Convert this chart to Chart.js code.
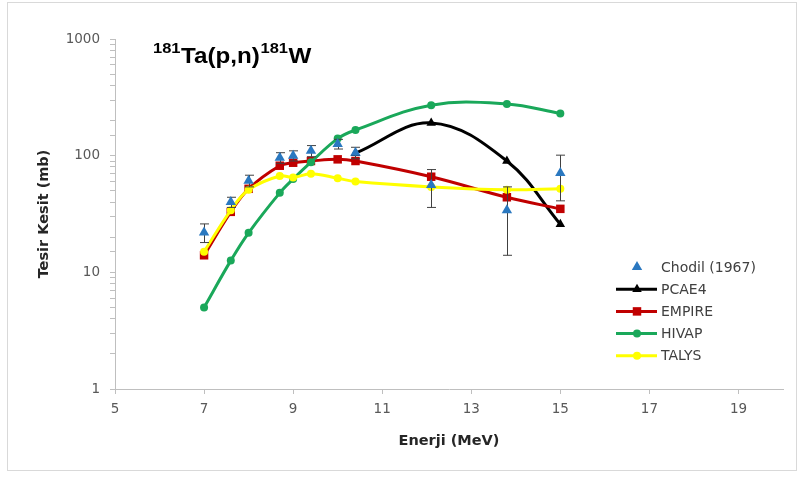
<!DOCTYPE html>
<html>
<head>
<meta charset="utf-8">
<script src="https://cdn.jsdelivr.net/npm/chart.js@4.4.1/dist/chart.umd.min.js"></script>
<style>
  html, body { margin: 0; padding: 0; background: #fff; }
  #box { width: 806px; height: 477px; }
</style>
</head>
<body>
<div id="box"><canvas id="chart" width="806" height="477"></canvas></div>
<script>
// Enerji (MeV) ve tesir kesitleri (mb)
var energy    = [7, 7.6, 8, 8.7, 9, 9.4, 10, 10.4, 12.1, 13.8, 15];
var chodil    = [22, 40, 61, 96, 100, 110, 126, 106, 56, 34, 71];
var chodilErr = [4, 4, 7, 10, 10, 12, 12, 12, 20, 20, 30];
var pcae4     = [null, null, null, null, null, null, null, 105, 191, 90, 25.8];
var empire    = [14, 33, 52, 82, 87, 90, 93, 90, 66, 44, 35];
var hivap     = [5.0, 12.6, 21.8, 48, 63, 88, 140, 166, 271, 277, 230];
var talys     = [15, 34, 51, 67, 65, 70, 64, 60, 54, 51, 52];
var xTicks    = [5, 7, 9, 11, 13, 15, 17, 19];
var yLabels   = [1, 10, 100, 1000];

var FONT = '"DejaVu Sans", sans-serif';
var TITLE_FONT = '"Liberation Sans", Arial, sans-serif';

function pts(arr) {
    return energy.map(function (e, i) { return { x: e, y: arr[i] }; });
}

function lineSet(label, arr, color, style, radius, order) {
    return {
        label: label, data: pts(arr), order: order,
        borderColor: color, backgroundColor: color, borderWidth: 3,
        pointStyle: style, pointRadius: radius, pointBorderWidth: 0,
        pointBackgroundColor: color, tension: 0.38, spanGaps: false
    };
}

var decor = {
    id: 'decor',
    beforeDraw: function (chart) {
        var ctx = chart.ctx;
        ctx.save();
        ctx.strokeStyle = '#d9d9d9';
        ctx.lineWidth = 1;
        ctx.strokeRect(7.5, 2.5, 789, 468);
        ctx.restore();
    },
    beforeDatasetDraw: function (chart, args) {
        if (args.index !== 0) return;
        var ctx = chart.ctx, xs = chart.scales.x, ys = chart.scales.y;
        ctx.save();
        ctx.strokeStyle = '#404040';
        ctx.lineWidth = 1;
        energy.forEach(function (e, i) {
            var px = Math.round(xs.getPixelForValue(e)) + 0.5;
            var top = ys.getPixelForValue(chodil[i] + chodilErr[i]);
            var bot = ys.getPixelForValue(chodil[i] - chodilErr[i]);
            ctx.beginPath();
            ctx.moveTo(px, top); ctx.lineTo(px, bot);
            ctx.moveTo(px - 4.5, top); ctx.lineTo(px + 4.5, top);
            ctx.moveTo(px - 4.5, bot); ctx.lineTo(px + 4.5, bot);
            ctx.stroke();
        });
        ctx.restore();
    },
    afterDraw: function (chart) {
        var ctx = chart.ctx;
        ctx.save();
        // baslik (biraz yatay genis)
        ctx.fillStyle = '#000';
        ctx.textBaseline = 'alphabetic';
        ctx.save();
        ctx.translate(153, 0);
        ctx.scale(1.1, 1);
        var x = 0;
        var parts = [['181', 15, 53], ['Ta(p,n)', 22, 63], ['181', 15, 53], ['W', 22, 63]];
        parts.forEach(function (p) {
            ctx.font = 'bold ' + p[1] + 'px ' + TITLE_FONT;
            ctx.fillText(p[0], x, p[2]);
            x += ctx.measureText(p[0]).width + 0.5;
        });
        ctx.restore();
        // lejant
        var y0 = 267, gap = 22.2;
        chart.data.datasets.forEach(function (ds, i) {
            var y = y0 + i * gap;
            ctx.fillStyle = ds.borderColor;
            ctx.strokeStyle = ds.borderColor;
            if (ds.showLine !== false) {
                ctx.lineWidth = 3;
                ctx.beginPath();
                ctx.moveTo(616, y); ctx.lineTo(657, y);
                ctx.stroke();
            }
            Chart.helpers.drawPoint(ctx, {
                pointStyle: ds.pointStyle, radius: ds.pointRadius, rotation: 0, borderWidth: 0
            }, 637, y);
            ctx.fillStyle = '#404040';
            ctx.font = '14px ' + FONT;
            ctx.textBaseline = 'middle';
            ctx.fillText(ds.label, 661, y + 1);
        });
        ctx.restore();
    }
};

new Chart(document.getElementById('chart').getContext('2d'), {
    type: 'line',
    data: {
        datasets: [
            {
                label: 'Chodil (1967)', data: pts(chodil), order: 0, showLine: false,
                borderColor: '#2a78c0', backgroundColor: '#2a78c0',
                pointStyle: 'triangle', pointRadius: 6, pointBorderWidth: 0,
                pointBackgroundColor: '#2a78c0'
            },
            lineSet('PCAE4', pcae4, '#000000', 'triangle', 5.5, 4),
            lineSet('EMPIRE', empire, '#c00000', 'rect', 6, 3),
            lineSet('HIVAP', hivap, '#1aa85a', 'circle', 4, 2),
            lineSet('TALYS', talys, '#ffff00', 'circle', 4, 1)
        ]
    },
    plugins: [decor],
    options: {
        responsive: false,
        animation: false,
        layout: { padding: { left: 0, top: 39, right: 23, bottom: 0 } },
        plugins: { legend: { display: false }, tooltip: { enabled: false } },
        scales: {
            x: {
                type: 'linear', min: 5, max: 20,
                afterBuildTicks: function (s) { s.ticks = xTicks.map(function (v) { return { value: v }; }); },
                afterFit: function (s) { s.height = 88; },
                grid: { drawOnChartArea: false, drawTicks: true, tickLength: 5, color: '#bfbfbf' },
                border: { color: '#bfbfbf' },
                ticks: { color: '#595959', font: { family: FONT, size: 13.5 }, padding: 7, autoSkip: false, maxRotation: 0 },
                title: {
                    display: true, text: 'Enerji (MeV)', color: '#262626',
                    font: { family: FONT, size: 14.5, weight: 'bold' }, padding: { top: 0, bottom: 27 }
                }
            },
            y: {
                type: 'logarithmic', min: 1, max: 1000,
                afterFit: function (s) { s.width = 115; },
                grid: { drawOnChartArea: false, drawTicks: true, tickLength: 5, color: '#bfbfbf' },
                border: { color: '#bfbfbf' },
                ticks: {
                    color: '#595959', font: { family: FONT, size: 13.5 }, padding: 10, autoSkip: false,
                    callback: function (v) { return yLabels.indexOf(v) >= 0 ? String(v) : ''; }
                },
                title: {
                    display: true, text: 'Tesir Kesit (mb)', color: '#262626',
                    font: { family: FONT, size: 14.5, weight: 'bold' }, padding: { top: 36, bottom: 0 }
                }
            }
        }
    }
});
</script>
</body>
</html>
